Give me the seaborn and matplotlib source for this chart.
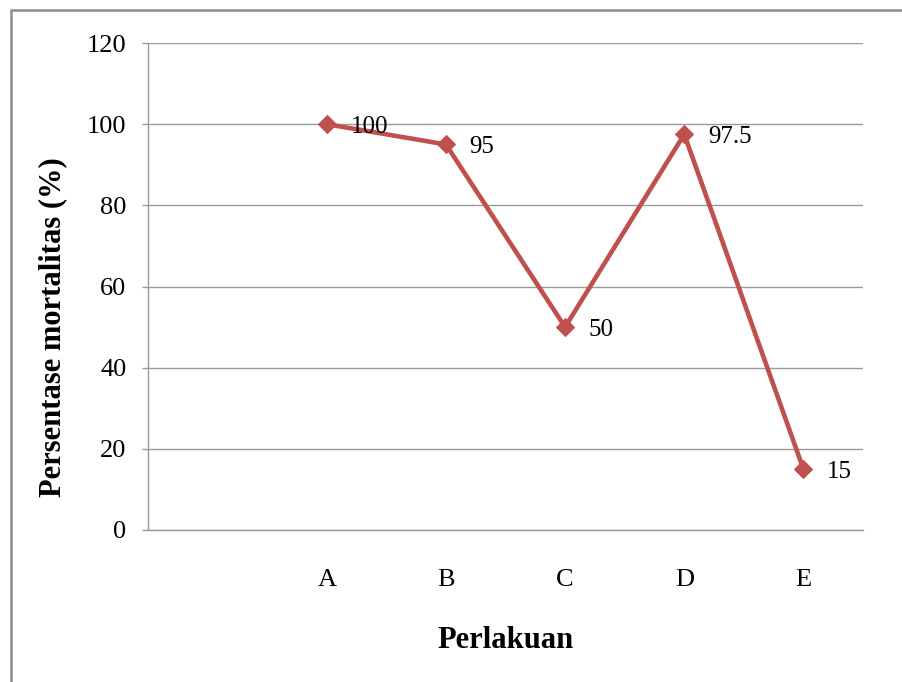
import matplotlib
matplotlib.use("Agg")
import matplotlib.pyplot as plt
import matplotlib.patches as patches
import numpy as np
import pandas as pd
import seaborn as sns

# data
categories = ["A", "B", "C", "D", "E"]
mortality = [100, 95, 50, 97.5, 15]
y_ticks = [0, 20, 40, 60, 80, 100, 120]

# first category slot is left empty (as in the original sheet)
positions = np.arange(1, len(categories) + 1)
df = pd.DataFrame({"pos": positions, "mortalitas": mortality, "perlakuan": categories})

sns.set_style("white")
plt.rcParams["font.family"] = ["Liberation Serif", "DejaVu Serif"]
plt.rcParams["text.color"] = "black"
plt.rcParams["axes.labelcolor"] = "black"
plt.rcParams["xtick.labelcolor"] = "black"
plt.rcParams["ytick.labelcolor"] = "black"

line_col = "#C0504D"
grid_col = "#9a9a9a"

fig = plt.figure(figsize=(9.02, 6.82), dpi=100, facecolor="white")
ax = fig.add_axes([148 / 902, 1 - 530 / 682, 715 / 902, 487 / 682])

sns.lineplot(data=df, x="pos", y="mortalitas", ax=ax, color=line_col,
             linewidth=3.3, marker="D", markersize=9.5,
             markeredgecolor=line_col, markerfacecolor=line_col)

# data labels
for x, y in zip(df.pos, df.mortalitas):
    lab = f"{y:g}"
    ax.annotate(lab, (x, y), xytext=(17, -2), textcoords="offset points",
                ha="left", va="center", fontsize=18, color="black")

# axes
ax.set_xlim(-0.5, 5.5)
ax.set_ylim(0, 120)
ax.set_xticks(positions)
ax.set_xticklabels(categories)
ax.set_yticks(y_ticks)
ax.set_yticklabels([str(t) for t in y_ticks])

ax.yaxis.grid(True, color=grid_col, linewidth=1.0)
ax.xaxis.grid(False)
ax.set_axisbelow(True)

ax.spines["top"].set_visible(False)
ax.spines["right"].set_visible(False)
ax.spines["left"].set_color(grid_col)
ax.spines["bottom"].set_color(grid_col)
ax.spines["left"].set_linewidth(1.0)
ax.spines["bottom"].set_linewidth(1.0)

ax.tick_params(axis="y", direction="out", length=4.5, width=1.0, color=grid_col,
               pad=11, labelsize=19, left=True)
ax.tick_params(axis="x", length=0, pad=28, labelsize=19, bottom=True)

ax.set_xlabel("Perlakuan", fontsize=22, fontweight="bold")
ax.set_ylabel("Persentase mortalitas (%)", fontsize=22, fontweight="bold")
ax.xaxis.label.set_va("center")
ax.yaxis.label.set_va("center")
ax.xaxis.set_label_coords(0.5, -(640 - 530) / 487)
ax.yaxis.set_label_coords((53 - 148) / 715, 1 - (327 - 43) / 487)

# chart-area border
fig.patches.append(patches.Rectangle((11 / 902, -0.1), 1.2, 1.1 - 9.7 / 682,
                                     transform=fig.transFigure, fill=False,
                                     edgecolor="#8c8c8c", linewidth=1.8))

fig.savefig("out.png", dpi=100, facecolor="white")
